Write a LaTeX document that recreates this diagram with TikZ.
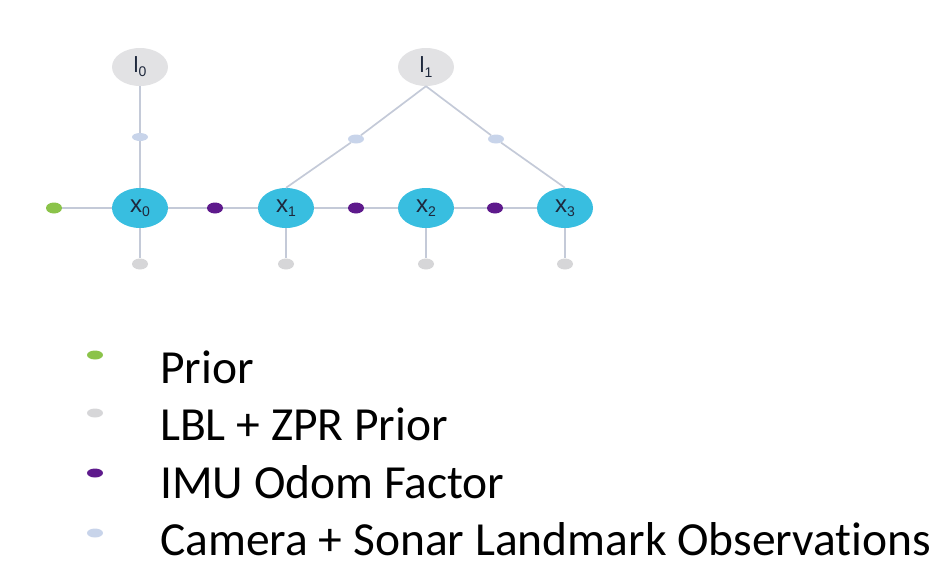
\documentclass[tikz,border=0pt]{standalone}
\usepackage{fontspec}
\setmainfont[Ligatures=NoCommon]{Carlito}
\newfontfamily\hv{Liberation Sans}
\usetikzlibrary{shapes.geometric}
\definecolor{xcol}{RGB}{56,190,224}
\definecolor{lcol}{RGB}{226,226,228}
\definecolor{edgecol}{RGB}{196,202,216}
\definecolor{priorcol}{RGB}{139,195,74}
\definecolor{imucol}{RGB}{94,26,140}
\definecolor{lblcol}{RGB}{214,214,216}
\definecolor{camcol}{RGB}{200,212,234}
\definecolor{labcol}{RGB}{30,40,60}
\newcommand{\sublab}[1]{\raisebox{-0.35ex}{\fontsize{14}{14}\selectfont #1}}
\tikzset{
  varnode/.style={ellipse, fill=xcol, minimum width=56pt, minimum height=40pt, inner sep=0pt, text=labcol, font=\hv\fontsize{24}{24}\selectfont},
  lmnode/.style={ellipse, fill=lcol, minimum width=56pt, minimum height=38pt, inner sep=0pt, text=labcol, font=\hv\fontsize{22}{22}\selectfont},
  factor/.style={ellipse, minimum width=16pt, minimum height=11pt, inner sep=0pt},
  legdot/.style={ellipse, minimum width=16pt, minimum height=9pt, inner sep=0pt},
  conn/.style={draw=edgecol, line width=1.7pt},
  legtext/.style={anchor=base west, inner sep=0pt, font=\fontsize{47.5}{55}\selectfont, text=black}
}
\begin{document}
\begin{tikzpicture}[x=1pt,y=-1pt]
\useasboundingbox (0,0) rectangle (935,560);
% variables
\node[lmnode] (l0) at (140,67) {l\sublab{0}};
\node[lmnode] (l1) at (426,67) {l\sublab{1}};
\node[varnode] (x0) at (140,208) {x\sublab{0}};
\node[varnode] (x1) at (286,208) {x\sublab{1}};
\node[varnode] (x2) at (426,208) {x\sublab{2}};
\node[varnode] (x3) at (565,208) {x\sublab{3}};
% factors
\node[factor, fill=priorcol] (pf) at (54,208) {};
\node[factor, fill=imucol] (o1) at (215,208) {};
\node[factor, fill=imucol] (o2) at (356,208) {};
\node[factor, fill=imucol] (o3) at (495,208) {};
\node[factor, fill=camcol, minimum height=8pt] (c0) at (140,137) {};
\node[factor, fill=camcol, minimum height=9pt] (c1) at (356,139) {};
\node[factor, fill=camcol, minimum height=9pt] (c2) at (496,139) {};
\node[factor, fill=lblcol] (g0) at (140,264) {};
\node[factor, fill=lblcol] (g1) at (286,264) {};
\node[factor, fill=lblcol] (g2) at (426,264) {};
\node[factor, fill=lblcol] (g3) at (565,264) {};
% connectors
\draw[conn] (pf) -- (x0) -- (o1) -- (x1) -- (o2) -- (x2) -- (o3) -- (x3);
\draw[conn] (l0) -- (c0) -- (x0);
\draw[conn] (l1.south) -- (c1) -- (x1.north);
\draw[conn] (l1.south) -- (c2) -- (x3.north);
\draw[conn] (x0) -- (g0);
\draw[conn] (x1) -- (g1);
\draw[conn] (x2) -- (g2);
\draw[conn] (x3) -- (g3);
% legend
\node[legdot, fill=priorcol] (d1) at (95,355) {};
\node[legdot, fill=lblcol] (d2) at (95,413) {};
\node[legdot, fill=imucol] (d3) at (95,473) {};
\node[legdot, fill=camcol] (d4) at (95,533) {};
\node[legtext] (t1) at (160,383) {Prior};
\node[legtext] (t2) at (160,440) {LBL + ZPR Prior};
\node[legtext] (t3) at (160,498) {IMU Odom Factor};
\node[legtext] (t4) at (160,555) {Camera + Sonar Landmark Observations};
\end{tikzpicture}
\end{document}
